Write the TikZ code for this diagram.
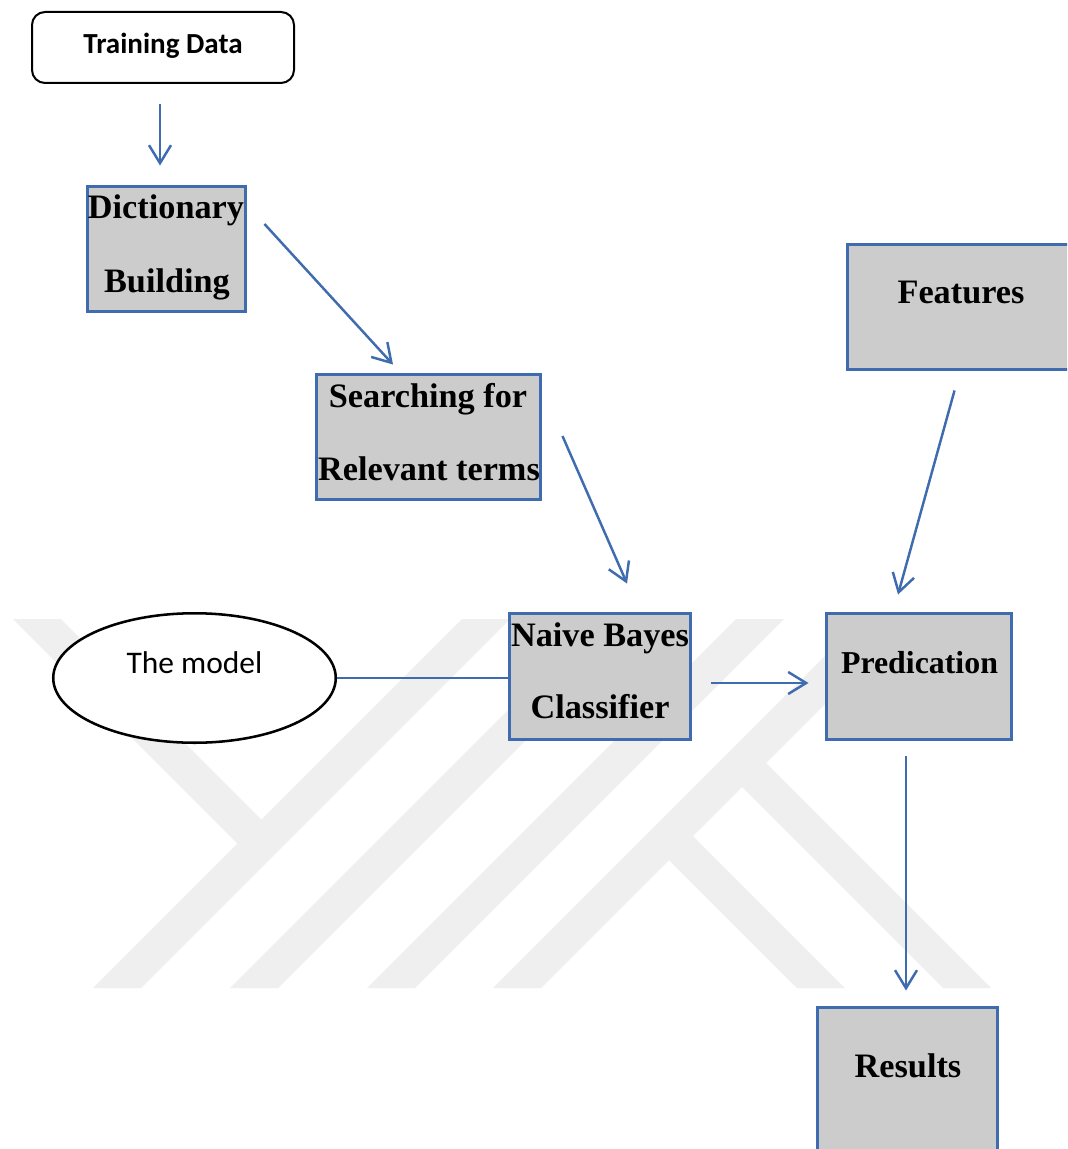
\documentclass[tikz,border=0pt]{standalone}
\usepackage{fontspec}
\setmainfont{Liberation Serif}
\newfontfamily\calib{Carlito}
\usetikzlibrary{arrows.meta,shapes.geometric,calc}

\definecolor{edgeblue}{RGB}{62,108,175}
\definecolor{boxgrey}{RGB}{204,204,204}
\definecolor{markgrey}{RGB}{239,239,239}

\begin{document}
\begin{tikzpicture}[x=0.75pt,y=-0.75pt,
  stepbox/.style={draw=edgeblue, fill=boxgrey, line width=2.2pt, inner sep=0pt},
  startbox/.style={draw=black, fill=white, line width=1.5pt, rounded corners=9.75pt,
    inner sep=0pt, minimum width=196.5pt, minimum height=53.25pt},
  modeloval/.style={ellipse, draw=black, fill=white, line width=1.9pt, inner sep=0pt,
    minimum width=211.9pt, minimum height=97.1pt},
  lbl/.style={font=\fontsize{25.7}{30}\selectfont\bfseries, inner sep=0pt, anchor=base},
  flow/.style={draw=edgeblue, line width=1.85pt,
    -{Straight Barb[length=13.5pt,width=16.5pt,line width=1.85pt]}},
  link/.style={draw=edgeblue, line width=1.1pt}
]
\useasboundingbox (0,0) rectangle (1067,1149);
\clip (0,0) rectangle (1067,1149);
\fill[white] (0,0) rectangle (1067,1149);

% background emblem made of 45-degree stripes
\begin{scope}[markgrey]
  \fill (93,988) -- (141,988) -- (510,619) -- (462,619) -- cycle;
  \fill (230,988) -- (278,988) -- (647,619) -- (599,619) -- cycle;
  \fill (367,988) -- (415,988) -- (784,619) -- (736,619) -- cycle;
  \fill (493,988) -- (541,988) -- (910,619) -- (862,619) -- cycle;
  \fill (13,619) -- (61,619) -- (273,831) -- (249,855) -- cycle;
  \fill (797,988) -- (845,988) -- (673,816) -- (649,840) -- cycle;
  \fill (943,988) -- (991,988) -- (746,743) -- (722,767) -- cycle;
\end{scope}

% process boxes
\node[startbox] (train) at (163,47.5) {};
\node[font=\calib\fontsize{21.8}{26}\selectfont\bfseries, inner sep=0pt, anchor=base]
  (train-t) at (163,54) {Training Data};

\node[stepbox, minimum width=118.5pt, minimum height=93.75pt] (dict) at (166.5,249) {};
\node[lbl] (dict-t1) at (166,218) {Dictionary};
\node[lbl] (dict-t2) at (167,292) {Building};

\node[stepbox, minimum width=168pt, minimum height=93.75pt] (search) at (428.5,437) {};
\node[lbl] (search-t1) at (428,407) {Searching for};
\node[lbl] (search-t2) at (429,480) {Relevant terms};

\node[stepbox, minimum width=135.75pt, minimum height=94.5pt] (nb) at (600,676.5) {};
\node[lbl] (nb-t1) at (600,646) {Naive Bayes};
\node[lbl] (nb-t2) at (600,718) {Classifier};

\node[stepbox, minimum width=181.9pt, minimum height=93.75pt] (feat) at (968.75,307) {};
\node[lbl] (feat-t) at (961,303) {Features};

\node[stepbox, minimum width=138.75pt, minimum height=94.5pt] (pred) at (919,676.5) {};
\node[lbl, font=\fontsize{23.9}{28}\selectfont\bfseries] (pred-t) at (919.5,673) {Predication};

\node[stepbox, minimum width=135pt, minimum height=129.4pt] (res) at (907.5,1093.75) {};
\node[lbl] (res-t) at (908,1077) {Results};

\node[modeloval] (model) at (194.5,678) {};
\node[font=\calib\fontsize{23.6}{28}\selectfont, inner sep=0pt, anchor=base]
  (model-t) at (194.5,673) {The model};

% connector end points
\coordinate (c1a) at ($(train.south)+(-3,20)$);
\coordinate (c1b) at ($(dict.north)+(-6.5,-19.5)$);
\coordinate (c2a) at ($(dict.east)+(17.5,-25)$);
\coordinate (c2b) at ($(search.north)+(-35.5,-8.5)$);
\coordinate (c3a) at ($(search.east)+(20.5,-1)$);
\coordinate (c3b) at ($(nb.north)+(27,-28.5)$);
\coordinate (c4a) at ($(feat.south west)+(108.5,19.5)$);
\coordinate (c4b) at ($(pred.north)+(-21,-17.5)$);
\coordinate (c5a) at ($(nb.east)+(19.5,6.5)$);
\coordinate (c5b) at ($(pred.west)+(-16.5,6.5)$);
\coordinate (c6a) at ($(pred.south)+(-13,15.5)$);
\coordinate (c6b) at ($(res.north)+(-1.5,-15.5)$);

% connectors
\draw[flow] (c1a) -- (c1b);
\draw[flow] (c2a) -- (c2b);
\draw[flow] (c3a) -- (c3b);
\draw[flow] (c4a) -- (c4b);
\draw[flow] (c5a) -- (c5b);
\draw[flow] (c6a) -- (c6b);
\draw[link] (model.east) -- (model.east -| nb.west);
\end{tikzpicture}
\end{document}
